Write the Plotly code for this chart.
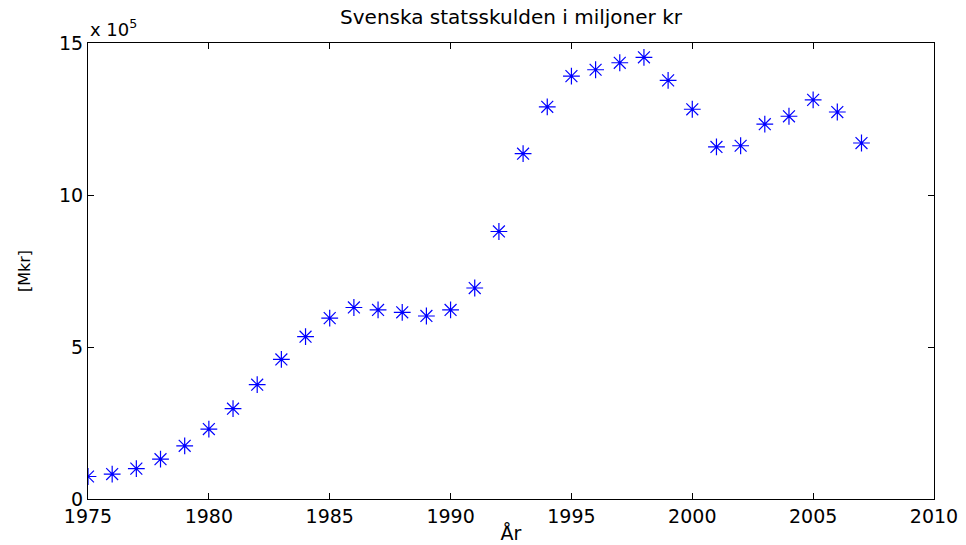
import plotly.graph_objects as go

# Swedish central government debt, million SEK
years = list(range(1975, 2008))
debt_e5 = [0.74, 0.82, 1.00, 1.31, 1.75, 2.30, 2.97, 3.76, 4.59, 5.34,
           5.95, 6.30, 6.22, 6.14, 6.02, 6.22, 6.94, 8.80, 11.36, 12.90,
           13.91, 14.12, 14.35, 14.53, 13.77, 12.82, 11.58, 11.62, 12.33, 12.59,
           13.13, 12.73, 11.71]
debt = [v * 1e5 for v in debt_e5]

x_ticks = [1975, 1980, 1985, 1990, 1995, 2000, 2005, 2010]
y_ticks = [0, 5e5, 10e5, 15e5]
y_tick_text = ["0", "5", "10", "15"]

FONT = "DejaVu Sans, Verdana, sans-serif"

fig = go.Figure(go.Scatter(
    x=years, y=debt, mode="markers",
    marker=dict(symbol="asterisk-open", size=14, color="#0000ff",
                line=dict(color="#0000ff", width=1.2)),
    showlegend=False,
))

axis_common = dict(
    showgrid=False, zeroline=False, showline=True, linecolor="black",
    linewidth=1.2, mirror="ticks", ticks="inside", ticklen=6,
    tickcolor="black", tickfont=dict(family=FONT, size=19, color="black"),
    automargin=False,
)

fig.update_layout(
    width=966, height=545,
    margin=dict(l=88, r=32, t=43, b=46),
    paper_bgcolor="white", plot_bgcolor="white",
    font=dict(family=FONT, color="black"),
    title=dict(text="Svenska statsskulden i miljoner kr", x=0.5,
               xref="paper", y=1, yref="container", yanchor="top", pad=dict(t=10),
               font=dict(family=FONT, size=20, color="black"),
               automargin=False),
    xaxis=dict(range=[1975, 2010], tickvals=x_ticks,
               title=dict(text="År", font=dict(family=FONT, size=19), standoff=0),
               **axis_common),
    yaxis=dict(range=[0, 15e5], tickvals=y_ticks, ticktext=y_tick_text,
               title=dict(text="[Mkr]", font=dict(family=FONT, size=16), standoff=24),
               **axis_common),
    annotations=[dict(text="x 10<sup>5</sup>", xref="paper", yref="paper",
                      x=0, y=1, xanchor="left", yanchor="bottom", yshift=1,
                      showarrow=False, font=dict(family=FONT, size=18, color="black"))],
)

fig.write_html("out.html")
